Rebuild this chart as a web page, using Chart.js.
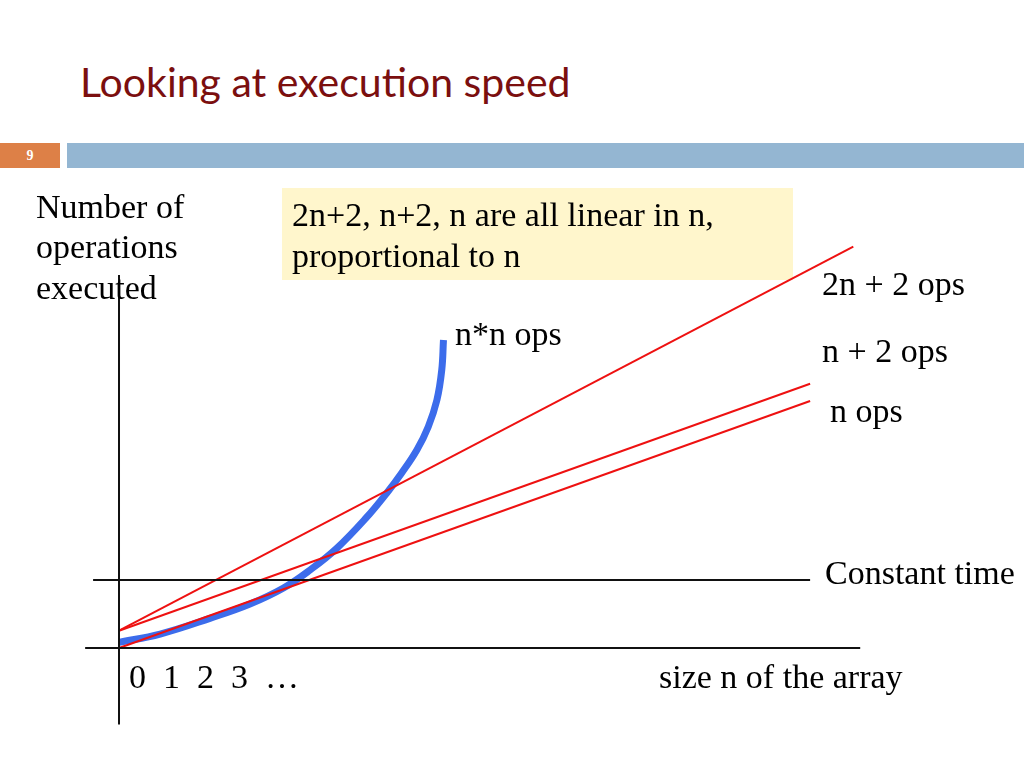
<!DOCTYPE html>
<html>
<head>
<meta charset="utf-8">
<script src="https://cdn.jsdelivr.net/npm/chart.js@4/dist/chart.umd.min.js"></script>
<style>
  html, body { margin:0; padding:0; background:#fff; width:1024px; height:768px; overflow:hidden; }
  #wrap { position:relative; width:1024px; height:768px; }
  canvas { position:absolute; left:0; top:0; }
  .t { position:absolute; font-family:"Liberation Serif","Times New Roman",serif; font-size:34px; line-height:1; color:#000; white-space:pre; }
  #title { position:absolute; left:80px; top:57px; font-family:Lato,"Open Sans",sans-serif; font-size:41px; color:#7B0F0F; white-space:nowrap; }
  #num { position:absolute; left:0; top:143px; width:60px; height:25px; background:#DD8047; color:#fff; font-family:"Liberation Serif",serif; font-weight:bold; font-size:14px; line-height:25px; text-align:center; }
  #bar { position:absolute; left:67px; top:143px; width:957px; height:25px; background:#94B6D2; }
  #note { position:absolute; left:282px; top:188px; width:511px; height:92px; background:#FFF6CC; }
</style>
</head>
<body>
<div id="wrap">
  <div id="title">Looking at execution speed</div>
  <div id="num">9</div>
  <div id="bar"></div>
  <div id="note"></div>
  <canvas id="c" width="1024" height="768"></canvas>
  <div class="t" style="left:36px;top:190px;">Number of</div>
  <div class="t" style="left:36px;top:230px;">operations</div>
  <div class="t" style="left:36px;top:271px;">executed</div>
  <div class="t" style="left:292px;top:198px;">2n+2, n+2, n are all linear in n,</div>
  <div class="t" style="left:292px;top:239px;">proportional to n</div>
  <div class="t" style="left:455px;top:317px;">n*n ops</div>
  <div class="t" style="left:822px;top:267px;">2n + 2 ops</div>
  <div class="t" style="left:822px;top:334px;">n + 2 ops</div>
  <div class="t" style="left:830px;top:394px;">n ops</div>
  <div class="t" style="left:825px;top:556px;">Constant time</div>
  <div class="t" style="left:129px;top:660px;" id="ticks"></div>
  <div class="t" style="left:659px;top:660px;">size n of the array</div>
</div>
<script>
// ---- data ----
const tickLabels = ["0", "1", "2", "3", "…"];
const nLine      = { x: [0, 20],    y: [0, 20] };
const nPlus2     = { x: [0, 20],    y: [1.4, 21.4] };
const twoNPlus2  = { x: [0, 21.25], y: [1.4, 32.5] };
const constant   = { x: [-0.75, 20], y: [5.5, 5.5] };
const nSquaredX  = [0, 1.19, 2.63, 3.79, 4.76, 5.53, 6.30, 7.15, 7.75, 8.18, 8.62, 8.95, 9.20, 9.34, 9.39];
const nSquaredY  = [0.46, 1.13, 2.40, 3.56, 4.86, 6.32, 8.07, 10.53, 12.55, 14.17, 16.03, 17.92, 20.08, 22.51, 24.94];
const xAxisLine  = { x: [-0.98, 21.45], y: [0, 0] };
const yAxisLine  = { x: [0, 0], y: [30.2, -6.2] };

document.getElementById('ticks').textContent = tickLabels.join('  ');

const pts = (xs, ys) => xs.map((x, i) => ({ x: x, y: ys[i] }));
const seg = (o) => pts(o.x, o.y);

const base = { showLine: true, pointRadius: 0, fill: false, tension: 0 };

new Chart(document.getElementById('c'), {
  type: 'scatter',
  data: {
    datasets: [
      Object.assign({}, base, { label: 'x axis', data: seg(xAxisLine), borderColor: '#111', borderWidth: 2 }),
      Object.assign({}, base, { label: 'y axis', data: seg(yAxisLine), borderColor: '#111', borderWidth: 2 }),
      Object.assign({}, base, { label: 'Constant time', data: seg(constant), borderColor: '#111', borderWidth: 2 }),
      Object.assign({}, base, { label: 'n ops', data: seg(nLine), borderColor: '#EE1111', borderWidth: 2 }),
      Object.assign({}, base, { label: 'n + 2 ops', data: seg(nPlus2), borderColor: '#EE1111', borderWidth: 2 }),
      Object.assign({}, base, { label: '2n + 2 ops', data: seg(twoNPlus2), borderColor: '#EE1111', borderWidth: 2 }),
      Object.assign({}, base, { label: 'n*n ops', data: pts(nSquaredX, nSquaredY), borderColor: '#3C6CEB', borderWidth: 7, tension: 0.4, borderCapStyle: 'butt', borderJoinStyle: 'round' })
    ]
  },
  options: {
    responsive: false,
    animation: false,
    layout: { padding: 0 },
    plugins: { legend: { display: false }, tooltip: { enabled: false } },
    scales: {
      x: { type: 'linear', display: false, min: -3.444, max: 26.19 },
      y: { type: 'linear', display: false, min: -9.717, max: 52.47 }
    }
  }
});
</script>
</body>
</html>
